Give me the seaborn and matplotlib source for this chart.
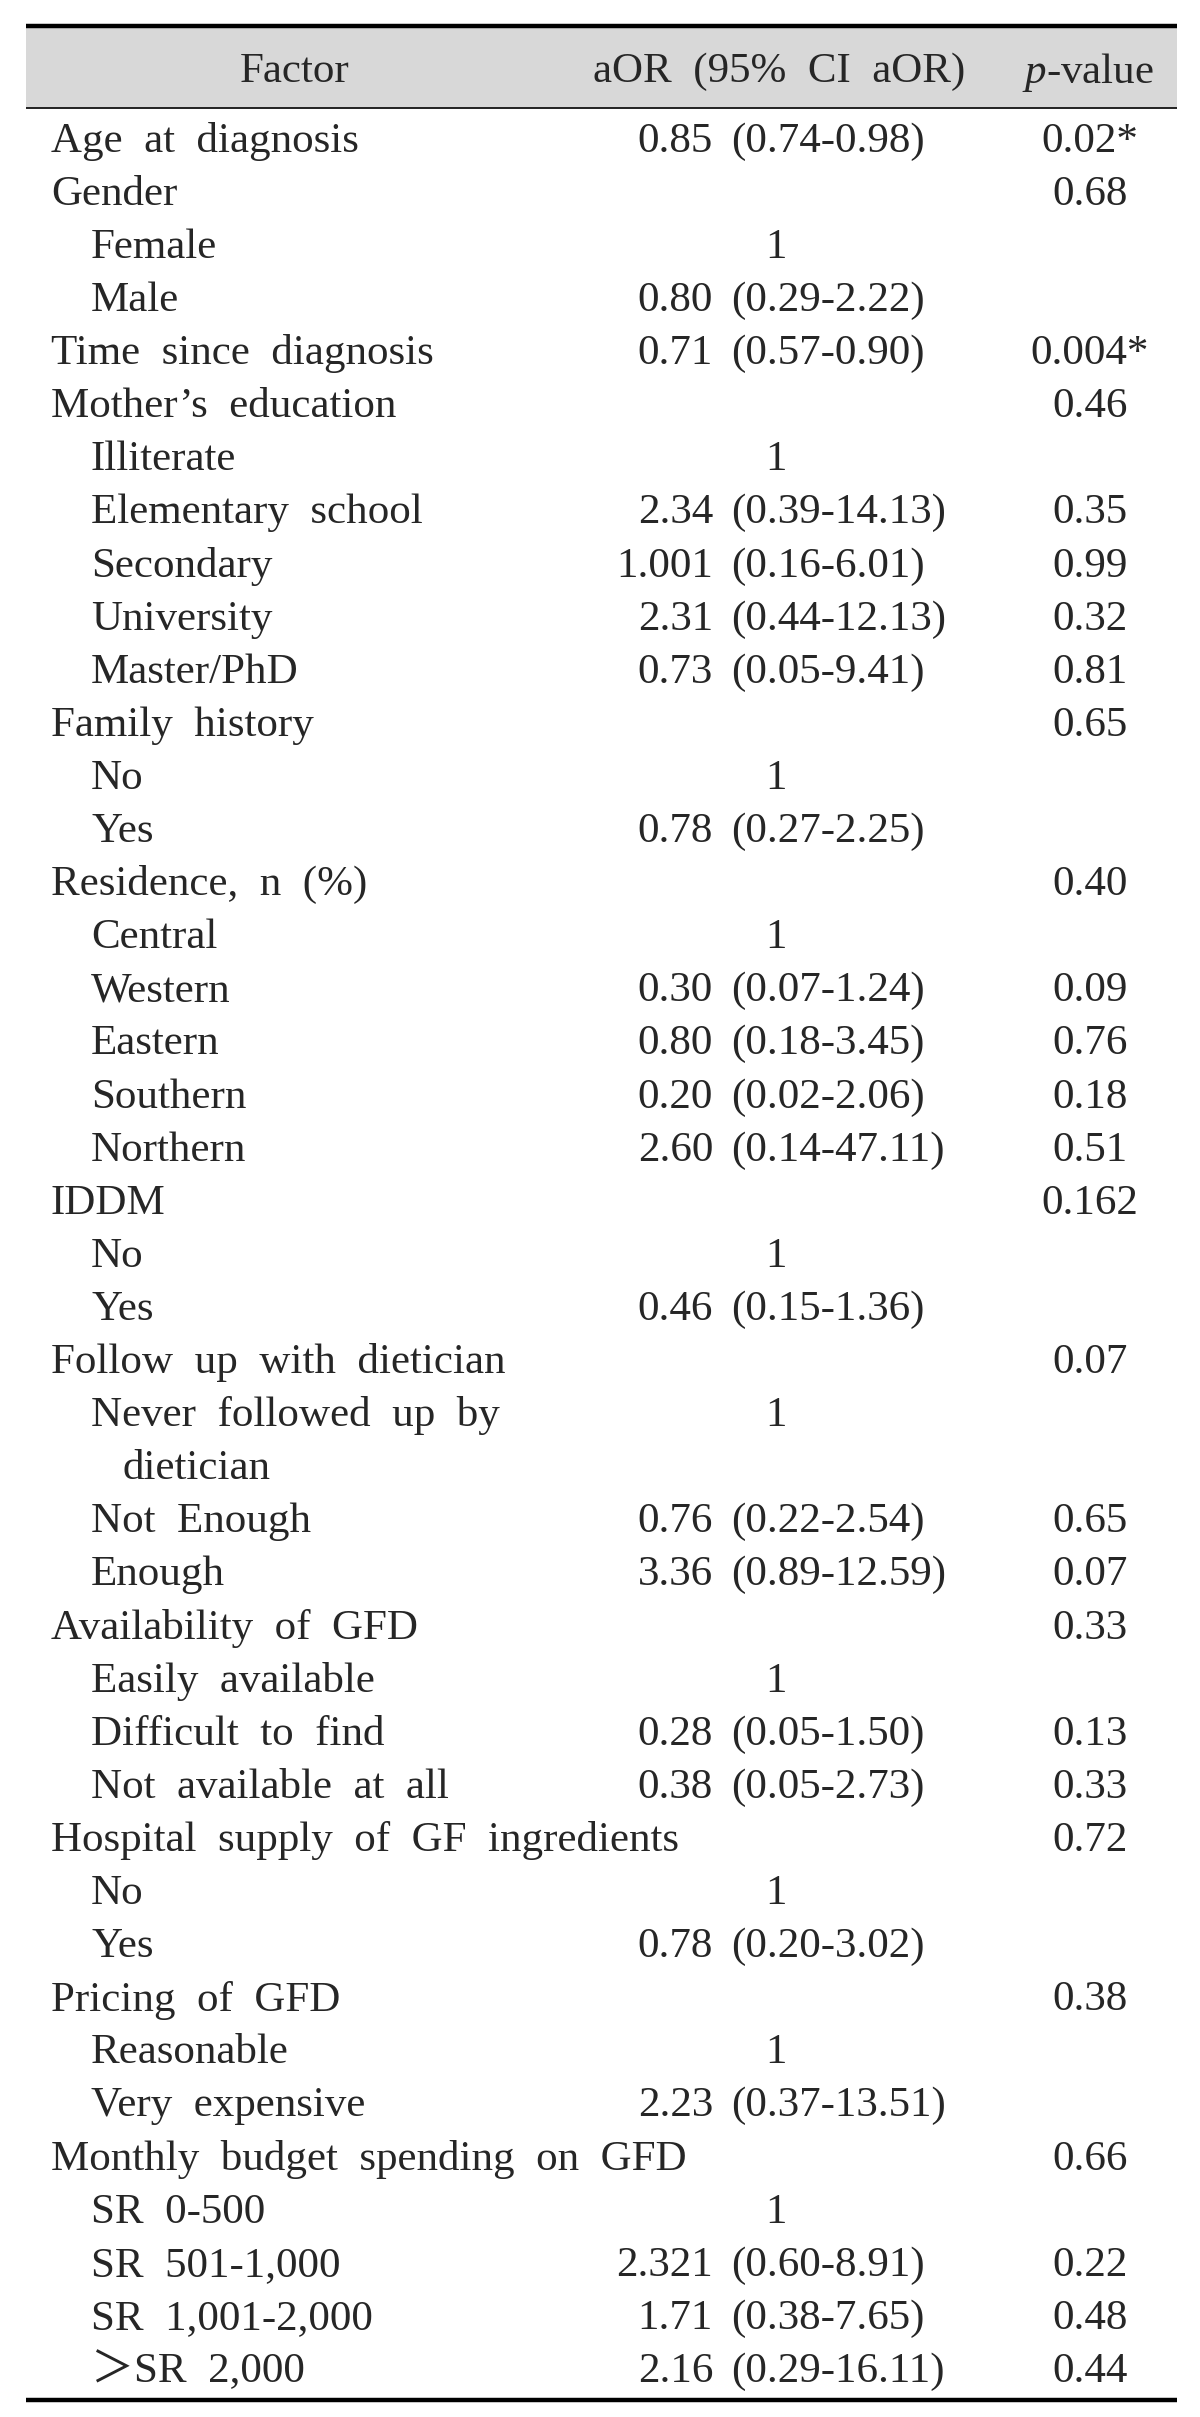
import matplotlib
matplotlib.use("Agg")
import matplotlib.pyplot as plt
import seaborn as sns

# table content
factors = [
    "Age at diagnosis", "Gender", "Female", "Male", "Time since diagnosis",
    "Mother’s education", "Illiterate", "Elementary school", "Secondary",
    "University", "Master/PhD",
    "Family history", "No", "Yes",
    "Residence, n (%)", "Central", "Western", "Eastern", "Southern", "Northern",
    "IDDM", "No", "Yes",
    "Follow up with dietician", "Never followed up by\ndietician",
    "Not Enough", "Enough",
    "Availability of GFD", "Easily available", "Difficult to find",
    "Not available at all",
    "Hospital supply of GF ingredients", "No", "Yes",
    "Pricing of GFD", "Reasonable", "Very expensive",
    "Monthly budget spending on GFD", "SR 0-500", "SR 501-1,000",
    "SR 1,001-2,000", "＞SR 2,000",
]
levels = [0, 0, 1, 1, 0,
          0, 1, 1, 1, 1, 1,
          0, 1, 1,
          0, 1, 1, 1, 1, 1,
          0, 1, 1,
          0, 1, 1, 1,
          0, 1, 1, 1,
          0, 1, 1,
          0, 1, 1,
          0, 1, 1, 1, 1]
aor = ["0.85", "", "1", "0.80", "0.71",
       "", "1", "2.34", "1.001", "2.31", "0.73",
       "", "1", "0.78",
       "", "1", "0.30", "0.80", "0.20", "2.60",
       "", "1", "0.46",
       "", "1", "0.76", "3.36",
       "", "1", "0.28", "0.38",
       "", "1", "0.78",
       "", "1", "2.23",
       "", "1", "2.321", "1.71", "2.16"]
ci = ["(0.74-0.98)", "", "", "(0.29-2.22)", "(0.57-0.90)",
      "", "", "(0.39-14.13)", "(0.16-6.01)", "(0.44-12.13)", "(0.05-9.41)",
      "", "", "(0.27-2.25)",
      "", "", "(0.07-1.24)", "(0.18-3.45)", "(0.02-2.06)", "(0.14-47.11)",
      "", "", "(0.15-1.36)",
      "", "", "(0.22-2.54)", "(0.89-12.59)",
      "", "", "(0.05-1.50)", "(0.05-2.73)",
      "", "", "(0.20-3.02)",
      "", "", "(0.37-13.51)",
      "", "", "(0.60-8.91)", "(0.38-7.65)", "(0.29-16.11)"]
p_values = ["0.02*", "0.68", "", "", "0.004*",
            "0.46", "", "0.35", "0.99", "0.32", "0.81",
            "0.65", "", "",
            "0.40", "", "0.09", "0.76", "0.18", "0.51",
            "0.162", "", "",
            "0.07", "", "0.65", "0.07",
            "0.33", "", "0.13", "0.33",
            "0.72", "", "",
            "0.38", "", "",
            "0.66", "", "0.22", "0.48", "0.44"]
headers = ["Factor", "aOR (95% CI aOR)", "$\\it{p}$-value"]

sns.set_theme(style="white")
fonts = ["Liberation Serif", "DejaVu Serif", "Noto Sans CJK JP"]
plt.rcParams["font.family"] = fonts
plt.rcParams["mathtext.fontset"] = "custom"
plt.rcParams["mathtext.it"] = "Liberation Serif:italic"
plt.rcParams["mathtext.rm"] = "Liberation Serif"

W, H = 1200, 2417
fig = plt.figure(figsize=(W / 100, H / 100), dpi=100)
ax = fig.add_axes([0, 0, 1, 1])
ax.set_xlim(0, W)
ax.set_ylim(H, 0)
ax.axis("off")

fs = 31
gap = "  "  # wide word spacing of the source typesetting


def spaced(s):
    return gap.join(s.split(" "))


x_left, x_right = 26, 1177
top, head_bot, bottom = 26, 108, 2400
first_row, step = 137, 53.1

# header band and rules
ax.axhspan(top, head_bot, xmin=x_left / W, xmax=x_right / W, color="#d8d8d8", lw=0)
ax.plot([x_left, x_right], [top, top], color="black", lw=3.2, solid_capstyle="butt")
ax.plot([x_left, x_right], [head_bot, head_bot], color="#222222", lw=1.4, solid_capstyle="butt")
ax.plot([x_left, x_right], [bottom, bottom], color="black", lw=3.2, solid_capstyle="butt")

hy = (top + head_bot) / 2
ax.text(295, hy, headers[0], fontsize=fs, ha="center", va="center_baseline")
ax.text(779, hy, spaced(headers[1]), fontsize=fs, ha="center", va="center_baseline")
ax.text(1088, hy, headers[2], fontsize=fs, ha="center", va="center_baseline")

line = 0
for name, lev, a, c, p in zip(factors, levels, aor, ci, p_values):
    y = first_row + line * step
    parts = name.split("\n")
    x0 = 51 if lev == 0 else 91
    for k, part in enumerate(parts):
        ax.text(x0 + (32 if k > 0 else 0), y + k * step, spaced(part),
                fontsize=fs, ha="left", va="center_baseline")
    if a == "1" and c == "":
        ax.text(776, y, a, fontsize=fs, ha="center", va="center_baseline")
    elif a:
        ax.text(713, y, a, fontsize=fs, ha="right", va="center_baseline")
        ax.text(731, y, c, fontsize=fs, ha="left", va="center_baseline")
    if p:
        ax.text(1090, y, p, fontsize=fs, ha="center", va="center_baseline")
    line += len(parts)

fig.savefig("out.png", dpi=100, facecolor="white")
